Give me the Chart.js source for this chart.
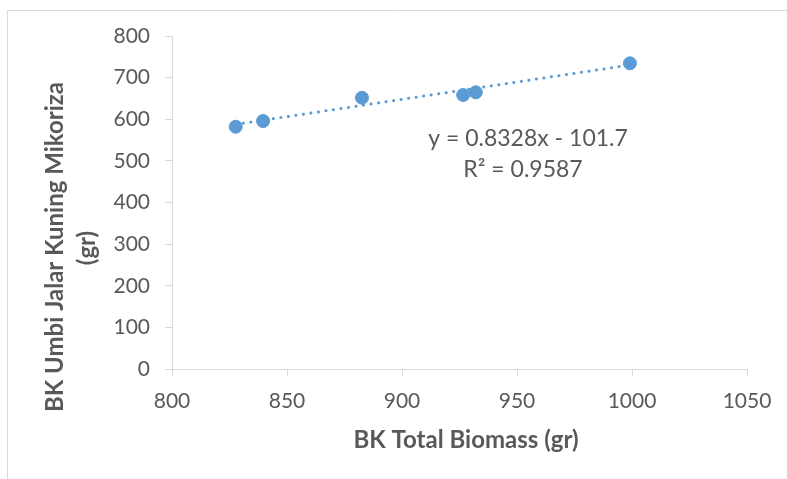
<!DOCTYPE html>
<html>
<head>
<meta charset="utf-8">
<script src="https://cdn.jsdelivr.net/npm/chart.js@4"></script>
<style>
  html, body { margin: 0; padding: 0; background: #fff; }
  #wrap { width: 787px; height: 479px; }
</style>
</head>
<body>
<div id="wrap"><canvas id="myChart"></canvas></div>
<script>
// data
const biomass = [827.7, 839.6, 882.6, 926.6, 932.1, 999.1];
const umbi = [582, 595.7, 651.7, 658.2, 664.7, 734.4];
const slope = 0.8328;
const intercept = -101.7;
const eqLines = ['y = 0.8328x - 101.7', 'R² = 0.9587'];
const xTitle = 'BK Total Biomass (gr)';
const yTitle = ['BK Umbi Jalar Kuning Mikoriza', '(gr)'];

const textColor = '#595959';
const axisColor = '#d9d9d9';
const blue = '#5b9bd5';
const font = 'Lato';

// trendline ends from the fitted equation
const xMin = Math.min(...biomass);
const xMax = Math.max(...biomass);
const trend = [xMin, xMax].map(x => ({ x: x, y: slope * x + intercept }));

const points = biomass.map((x, i) => ({ x: x, y: umbi[i] }));

// frame, axis titles and equation text
const extras = {
  id: 'extras',
  afterDraw(chart) {
    const ctx = chart.ctx;
    const a = chart.chartArea;
    ctx.save();
    ctx.strokeStyle = axisColor;
    ctx.lineWidth = 1;
    ctx.beginPath();
    ctx.moveTo(7.5, 479);
    ctx.lineTo(7.5, 10.5);
    ctx.lineTo(787, 10.5);
    ctx.stroke();

    ctx.fillStyle = textColor;
    ctx.textAlign = 'center';
    ctx.textBaseline = 'middle';

    ctx.font = '23px ' + font;
    ctx.fillText(eqLines[0], a.left + 356, a.top + 103);
    ctx.fillText(eqLines[1], a.left + 351, a.top + 134);

    ctx.font = 'bold 24px ' + font;
    ctx.fillText(xTitle, a.left + 294, 440);

    ctx.save();
    ctx.translate(55, 247);
    ctx.rotate(-Math.PI / 2);
    ctx.fillText(yTitle[0], 0, 0);
    ctx.restore();
    ctx.save();
    ctx.translate(87, 248);
    ctx.rotate(-Math.PI / 2);
    ctx.fillText(yTitle[1], 0, 0);
    ctx.restore();
    ctx.restore();
  }
};

const noPad = s => {
  s.paddingTop = 0; s.paddingBottom = 0;
  s.paddingLeft = 0; s.paddingRight = 0;
};

const ctx = document.getElementById('myChart').getContext('2d');
const myChart = new Chart(ctx, {
  type: 'scatter',
  data: {
    datasets: [
      {
        data: trend,
        showLine: true,
        borderColor: blue,
        borderWidth: 3,
        borderDash: [0.1, 7.5],
        borderCapStyle: 'round',
        pointRadius: 0,
        fill: false
      },
      {
        data: points,
        backgroundColor: blue,
        borderColor: blue,
        pointRadius: 6.5,
        pointHoverRadius: 6.5
      }
    ]
  },
  options: {
    responsive: true,
    maintainAspectRatio: false,
    animation: false,
    layout: { padding: { left: 0, top: 36, right: 40, bottom: 50 } },
    plugins: {
      legend: { display: false },
      tooltip: { enabled: false }
    },
    scales: {
      x: {
        type: 'linear',
        min: 800,
        max: 1050,
        ticks: { stepSize: 50, color: textColor, font: { family: font, size: 21 }, padding: 13, maxRotation: 0,
                 callback: v => String(v) },
        grid: { drawOnChartArea: false, color: axisColor, tickLength: 7 },
        border: { color: axisColor },
        afterFit: s => { s.height = 60; noPad(s); }
      },
      y: {
        min: 0,
        max: 800,
        ticks: { stepSize: 100, color: textColor, font: { family: font, size: 21 }, padding: 15,
                 callback: v => String(v) },
        grid: { drawOnChartArea: false, color: axisColor, tickLength: 7 },
        border: { color: axisColor },
        afterFit: s => { s.width = 172; noPad(s); }
      }
    }
  },
  plugins: [extras]
});
</script>
</body>
</html>
